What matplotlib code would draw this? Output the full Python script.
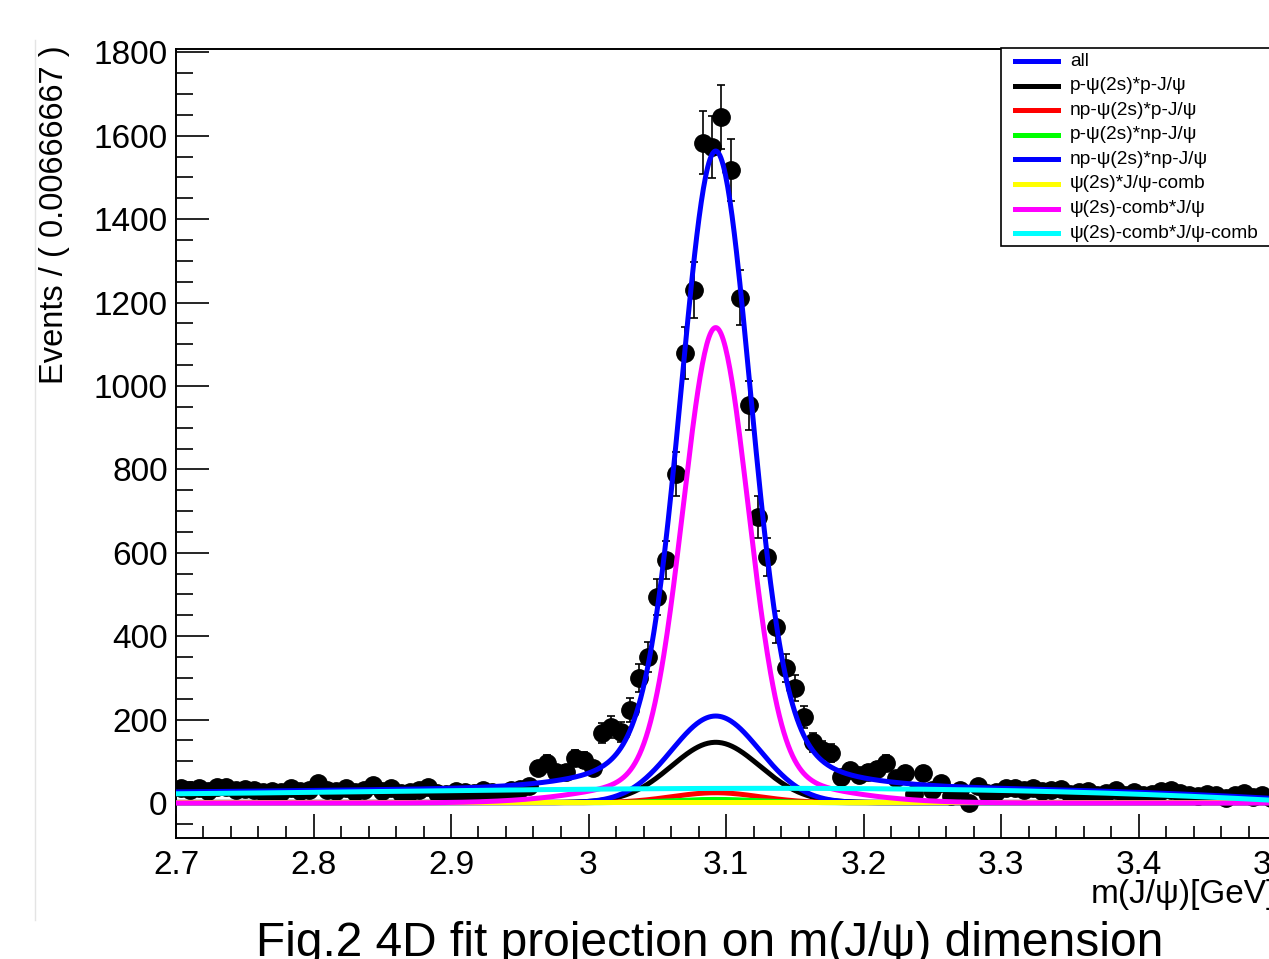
import numpy as np
import matplotlib
matplotlib.use("Agg")
import matplotlib.pyplot as plt
from matplotlib.lines import Line2D
from matplotlib.patches import Rectangle
from matplotlib.ticker import MultipleLocator

plt.rcParams['font.family'] = ['Liberation Sans', 'DejaVu Sans']

# binned data: 120 bins of width 0.00666667 between 2.7 and 3.5 GeV
bin_lo, bin_hi, n_bins = 2.7, 3.5, 120
counts = [36, 30, 36, 28, 38, 38, 30, 34, 31, 27, 29, 26, 36, 28, 30, 48, 30, 28, 36,
          26, 30, 43, 28, 36, 24, 27, 30, 38, 25, 22, 28, 26, 24, 30, 27, 25, 32, 34, 40,
          84, 96, 74, 74, 108, 103, 84, 168, 182, 170, 223, 300, 350, 494,
          583, 789, 1079, 1230, 1583, 1573, 1645, 1518, 1211, 954, 686, 590,
          422, 324, 276, 206, 146, 127, 120, 62, 79,
          66, 74, 82, 96, 60, 72, 22, 72, 31, 48, 17, 31, 0, 41,
          25, 26, 36, 36, 31, 36, 28, 31,
          34, 22, 26, 28, 18, 24, 30, 20, 26, 18, 22, 28, 32, 24, 20, 16, 22, 18, 12, 20,
          24, 14, 18, 12]
err_scale = 3.6  # weighted events: error bars are about 1.9*sqrt(N)

# fit components, parameters
mass_mean = 3.0925
comb_core = (1070, 0.0235)      # psi(2s)-comb * J/psi : amplitude, sigma
comb_wide = (70, 0.068)
jpsi_sigma = 0.032
p_p = (144, 1.5)                # amplitude, flat part
np_p = (24, 0.5)
p_np = (8, 0.5)
np_np = (208, 0.5)
psi_jcomb_level = 1.5
comb_comb_coef = [35, 8.3, -131, -177]   # cubic in (m - 3.1)

labels = ['all', 'p-ψ(2s)*p-J/ψ', 'np-ψ(2s)*p-J/ψ', 'p-ψ(2s)*np-J/ψ',
          'np-ψ(2s)*np-J/ψ', 'ψ(2s)*J/ψ-comb', 'ψ(2s)-comb*J/ψ', 'ψ(2s)-comb*J/ψ-comb']
colors = ['#0000ff', '#000000', '#ff0000', '#00ff00', '#0000ff', '#ffff00', '#ff00ff', '#00ffff']

W, H = 1269, 959


def gaus(x, a, s):
    return a * np.exp(-0.5 * ((x - mass_mean) / s) ** 2)


m = np.linspace(bin_lo, bin_hi, 1000)
t = m - 3.1
c_pp = gaus(m, p_p[0], jpsi_sigma) + p_p[1]
c_npp = gaus(m, np_p[0], jpsi_sigma) + np_p[1]
c_pnp = gaus(m, p_np[0], jpsi_sigma) + p_np[1]
c_npnp = gaus(m, np_np[0], jpsi_sigma) + np_np[1]
c_psij = np.full_like(m, psi_jcomb_level)
c_combj = gaus(m, *comb_core) + gaus(m, *comb_wide)
c_cc = sum(c * t ** i for i, c in enumerate(comb_comb_coef))
c_all = c_pp + c_npp + c_pnp + c_npnp + c_psij + c_combj + c_cc
curves = [c_all, c_pp, c_npp, c_pnp, c_npnp, c_psij, c_combj, c_cc]

fig = plt.figure(figsize=(W / 100, H / 100), dpi=100)
ax = fig.add_axes([176 / W, (H - 838) / H, 1100 / W, 789 / H])

width = (bin_hi - bin_lo) / n_bins
centers = bin_lo + (np.arange(n_bins) + 0.5) * width
y = np.array(counts, dtype=float)
ax.errorbar(centers, y, yerr=np.sqrt(err_scale * y), fmt='o', color='black',
            markersize=12.5, elinewidth=1.2, capsize=2.8, capthick=1.2, zorder=2)

for c, col in zip(curves, colors):
    ax.plot(m, c, color=col, lw=3.6, zorder=3, solid_capstyle='butt')

ax.set_xlim(bin_lo, bin_hi)
ax.set_ylim(-84, 1808)
ax.xaxis.set_major_locator(MultipleLocator(0.1))
ax.xaxis.set_minor_locator(MultipleLocator(0.02))
ax.yaxis.set_major_locator(MultipleLocator(200))
ax.yaxis.set_minor_locator(MultipleLocator(50))
ax.xaxis.set_major_formatter(plt.FuncFormatter(lambda v, p: f'{v:g}'))
ax.tick_params(axis='x', which='major', direction='in', length=17, width=1.2,
               labelsize=24, pad=9)
ax.tick_params(axis='x', which='minor', direction='in', length=8.5, width=1.2)
ax.tick_params(axis='y', which='major', direction='in', length=23.8, width=1.2,
               labelsize=24, pad=6)
ax.tick_params(axis='y', which='minor', direction='in', length=12, width=1.2)
for s in ax.spines.values():
    s.set_linewidth(1.4)

ax.text(1.0, (838 - 895) / 789, 'm(J/ψ)[GeV]', transform=ax.transAxes,
        ha='right', va='center', fontsize=24)
fig.text(55 / W, 1 - 215 / H, 'Events / ( 0.00666667 )', rotation=90,
         ha='center', va='center', fontsize=23.5)
fig.text(710 / W, 3 / H, 'Fig.2 4D fit projection on m(J/ψ) dimension',
         ha='center', va='baseline', fontsize=34.5)

# faint edge of the screenshot crop
fig.add_artist(Line2D([35 / W, 35 / W], [1 - 40 / H, 1 - 920 / H],
                      transform=fig.transFigure, color='#e4e4e4', lw=1))

# legend box in the ROOT style
fig.add_artist(Rectangle((1001 / W, 1 - 246 / H), 300 / W, 198 / H,
                         transform=fig.transFigure, facecolor='white',
                         edgecolor='black', lw=1.2, zorder=5))
for i, (lab, col) in enumerate(zip(labels, colors)):
    yy = 1 - (61 + 24.6 * i) / H
    fig.add_artist(Line2D([1015 / W, 1058 / W], [yy, yy], transform=fig.transFigure,
                          color=col, lw=3.6, zorder=6))
    fig.text(1070 / W, yy, lab, ha='left', va='center', fontsize=13.8, zorder=6)

fig.savefig('out.png', dpi=100)
